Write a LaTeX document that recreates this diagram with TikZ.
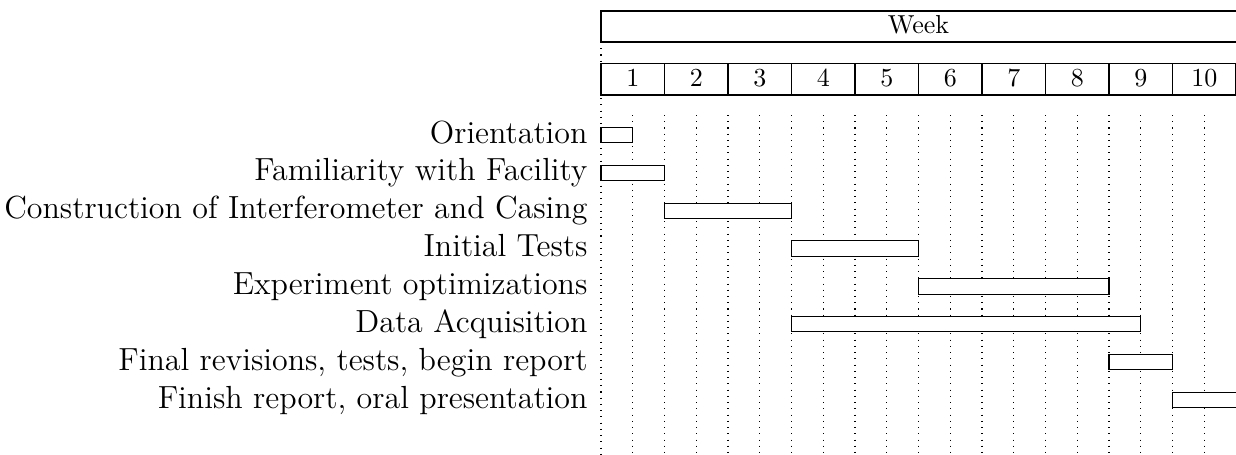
\documentclass[tikz,border=0pt]{standalone}
\begin{document}
\begin{tikzpicture}[x=0.3846pt,y=-0.3846pt,
  gridline/.style={line width=0.4pt,dotted},
  framebox/.style={draw,line width=0.4pt},
  barbox/.style={draw,fill=white,line width=0.4pt},
  tasklabel/.style={anchor=east,inner sep=0pt,font=\fontsize{12.3}{14}\selectfont,text height=8.5pt,text depth=2.3pt},
  weeknum/.style={inner sep=0pt,font=\fontsize{10}{12}\selectfont}]
\useasboundingbox (0,0) rectangle (1236,454);
% grid
\draw[gridline] (601,42) -- (601,454);
\foreach \i in {1,...,19}{
  \draw[gridline] ({601+31.75*\i},115) -- ({601+31.75*\i},454);
}
% title rows
\draw[framebox] (601,11) rectangle (1240,42);
\node[weeknum] (week) at (918.5,24.5) {Week};
\foreach \i in {1,...,10}{
  \draw[framebox] ({601+63.5*(\i-1)},63.3) rectangle ({601+63.5*\i},95);
  \node[weeknum] (w\i) at ({601+63.5*(\i-1)+31.75},78) {\i};
}
% tasks: label, start (half-weeks), end (half-weeks)
\foreach \lab/\s/\e [count=\k from 0] in {
  Orientation/0/1,
  Familiarity with Facility/0/2,
  Construction of Interferometer and Casing/2/6,
  Initial Tests/6/10,
  Experiment optimizations/10/16,
  Data Acquisition/6/17,
  {Final revisions, tests, begin report}/16/18,
  {Finish report, oral presentation}/18/21}{
  \pgfmathsetmacro{\top}{127.3+37.86*\k}
  \pgfmathsetmacro{\mid}{\top+7.65}
  \draw[barbox] ({601+31.75*\s},\top) rectangle ({min(601+31.75*\e,1240)},{\top+15.3});
  \node[tasklabel] (t\k) at (588,\mid) {\lab};
}
\end{tikzpicture}
\end{document}
